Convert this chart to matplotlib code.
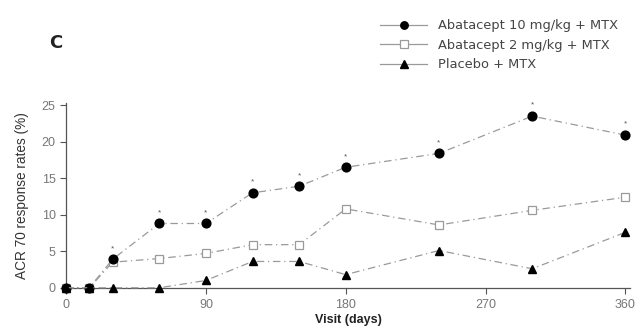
import matplotlib
matplotlib.use("Agg")
import matplotlib.pyplot as plt

days = [0, 15, 30, 60, 90, 120, 150, 180, 240, 300, 360]
aba10 = [0, 0, 3.9, 8.8, 8.8, 13.0, 13.9, 16.5, 18.4, 23.5, 20.9]
aba2 = [0, 0, 3.5, 4.0, 4.7, 5.9, 5.9, 10.8, 8.6, 10.6, 12.4]
placebo = [0, 0, 0, 0, 1.0, 3.6, 3.6, 1.8, 5.1, 2.6, 7.6]
labels = ["Abatacept 10 mg/kg + MTX", "Abatacept 2 mg/kg + MTX", "Placebo + MTX"]
xticks = [0, 90, 180, 270, 360]
yticks = [0, 5, 10, 15, 20, 25]

plt.rcParams['font.family'] = ['Liberation Sans', 'DejaVu Sans']

fig = plt.figure(figsize=(6.44, 3.27), dpi=100)
ax = fig.add_axes([0.1025, 0.12, 0.876, 0.565])

lc = '#9a9a9a'
ls = (0, (6, 3, 1, 3))
l1, = ax.plot(days, aba10, linestyle=ls, color=lc, lw=0.9,
              marker='o', ms=6.3, mfc='black', mec='black', clip_on=False, zorder=3, label=labels[0])
l2, = ax.plot(days, aba2, linestyle=ls, color=lc, lw=0.9,
              marker='s', ms=6, mfc='white', mec='#9a9a9a', mew=0.9, clip_on=False, zorder=2, label=labels[1])
l3, = ax.plot(days, placebo, linestyle=ls, color=lc, lw=0.9,
              marker='^', ms=6.3, mfc='black', mec='black', clip_on=False, zorder=4, label=labels[2])

# significance asterisks above 10 mg/kg points
for d, v in zip(days[2:], aba10[2:]):
    ax.text(d, v + 1.0, '*', ha='center', va='bottom', fontsize=6, color='#555555')

ax.set_xlim(0, 363)
ax.set_ylim(0, 25.3)
ax.set_xticks(xticks)
ax.set_yticks(yticks)
for s in ['top', 'right']:
    ax.spines[s].set_visible(False)
for s in ['left', 'bottom']:
    ax.spines[s].set_color('#555555')
    ax.spines[s].set_linewidth(0.9)
ax.tick_params(axis='both', colors='#555555', labelcolor='#777777', labelsize=9, length=4, width=0.8)
ax.tick_params(axis='x', pad=4)

ax.set_xlabel('Visit (days)', fontsize=9, fontweight='bold', color='#222222', labelpad=2)
ax.set_ylabel('ACR 70 response rates (%)', fontsize=9.8, color='#333333', labelpad=9)

fig.text(0.086, 0.868, 'C', fontsize=13, fontweight='bold', family='DejaVu Sans',
         color='#222222', ha='center', va='center')

leg = fig.legend(handles=[l1, l2, l3], labels=labels, loc='upper left',
                 bbox_to_anchor=(0.572, 0.977), frameon=False,
                 prop={'family': 'DejaVu Sans', 'size': 9.4},
                 handlelength=3.6, handletextpad=0.8, labelspacing=0.5, markerscale=0.85)
for t in leg.get_texts():
    t.set_color('#444444')
for h in leg.legend_handles:
    h.set_linestyle('-')

fig.savefig('out.png', dpi=100)
